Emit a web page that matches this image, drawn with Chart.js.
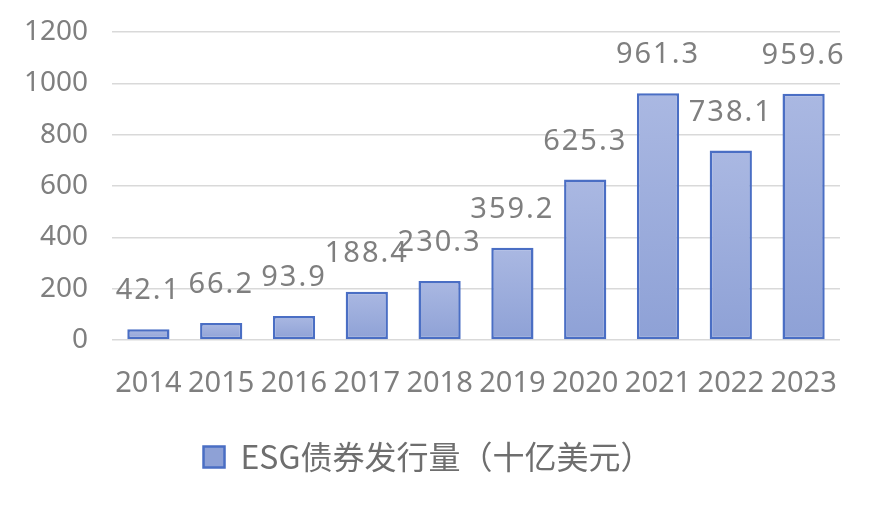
<!DOCTYPE html>
<html>
<head>
<meta charset="utf-8">
<script src="https://cdn.jsdelivr.net/npm/chart.js@4/dist/chart.umd.min.js"></script>
<style>
  html, body { margin: 0; padding: 0; background: #fff; }
  #wrap { width: 876px; height: 512px; }
</style>
</head>
<body>
<div id="wrap"><canvas id="esg-chart"></canvas></div>
<script>
const years = ['2014', '2015', '2016', '2017', '2018', '2019', '2020', '2021', '2022', '2023'];
const issuance = [42.1, 66.2, 93.9, 188.4, 230.3, 359.2, 625.3, 961.3, 738.1, 959.6];
const seriesName = 'ESG债券发行量（十亿美元）';

const textGray = '#7f7f7f';
const gridGray = '#d9d9d9';
const barBorder = '#4a6ec4';

function barFill(ctx) {
  const chart = ctx.chart;
  const y = chart.scales && chart.scales.y;
  if (!chart.chartArea || !y) return '#9dafdd';
  const c = chart.ctx;
  let top, bottom;
  if (ctx.type === 'data') {
    top = y.getPixelForValue(ctx.raw);
    bottom = y.getPixelForValue(0);
  } else {
    top = 448; bottom = 470;
  }
  if (bottom - top < 1) bottom = top + 1;
  const g = c.createLinearGradient(0, top, 0, bottom);
  g.addColorStop(0, '#aab8e2');
  g.addColorStop(1, '#8ea1d6');
  return g;
}

const valueLabels = {
  id: 'valueLabels',
  afterDatasetsDraw(chart) {
    const c = chart.ctx;
    const meta = chart.getDatasetMeta(0);
    c.save();
    c.font = '29px "Noto Sans", sans-serif';
    c.fillStyle = textGray;
    c.textAlign = 'center';
    c.textBaseline = 'alphabetic';
    if ('letterSpacing' in c) c.letterSpacing = '2px';
    meta.data.forEach((bar, i) => {
      c.fillText(issuance[i].toFixed(1), bar.x, bar.y - 30);
    });
    c.restore();
  }
};

new Chart(document.getElementById('esg-chart'), {
  type: 'bar',
  data: {
    labels: years,
    datasets: [{
      label: seriesName,
      data: issuance,
      backgroundColor: barFill,
      borderColor: barBorder,
      borderWidth: 2.5,
      borderSkipped: false,
      barPercentage: 0.58,
      categoryPercentage: 1.0
    }]
  },
  options: {
    responsive: true,
    maintainAspectRatio: false,
    animation: false,
    layout: { padding: { top: 32, right: 36, bottom: 29, left: 16 } },
    plugins: {
      tooltip: { enabled: false },
      legend: {
        position: 'bottom',
        labels: {
          boxWidth: 21,
          boxHeight: 21,
          padding: 10,
          color: '#6e6e6e',
          font: { family: '"Noto Sans CJK SC", "Noto Sans", sans-serif', size: 32 }
        }
      }
    },
    scales: {
      x: {
        grid: { display: false, drawTicks: false },
        border: { display: false },
        ticks: {
          color: textGray,
          padding: 26,
          maxRotation: 0,
          autoSkip: false,
          font: { family: '"Noto Sans", sans-serif', size: 29 }
        },
        afterFit(scale) { scale.height = 91; }
      },
      y: {
        min: 0,
        max: 1200,
        grid: { color: gridGray, lineWidth: 1.5, drawTicks: false },
        border: { display: false },
        ticks: {
          stepSize: 200,
          color: textGray,
          padding: 24,
          font: { family: '"Noto Sans", sans-serif', size: 28 },
          callback: v => String(v)
        },
        afterFit(scale) {
          scale.width = 96;
          scale.paddingTop = 0;
          scale.paddingBottom = 0;
        }
      }
    }
  },
  plugins: [valueLabels]
});
</script>
</body>
</html>
